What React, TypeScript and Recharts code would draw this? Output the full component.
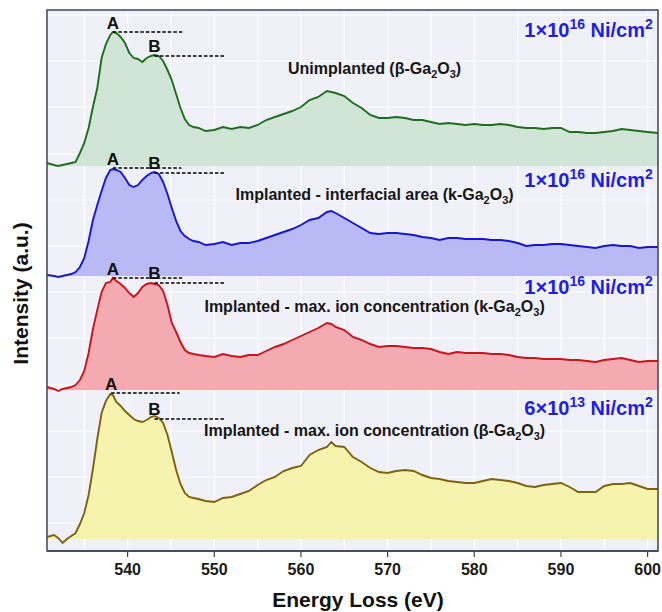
import React from 'react';
import {
  ComposedChart,
  Area,
  XAxis,
  YAxis,
  CartesianGrid,
  ReferenceLine,
  ReferenceDot,
  ReferenceArea,
} from 'recharts';

// Energy loss (eV)
const energy = [
  530.7, 531.5, 532, 532.5, 533, 533.5, 534, 534.5, 535, 535.5,
  536, 536.5, 537, 537.5, 538, 538.3, 538.7, 539.2, 539.7, 540.2,
  540.7, 541.2, 541.7, 542.2, 542.7, 543.1, 543.6, 544.1, 544.6, 545.1,
  545.6, 546.1, 546.6, 547.1, 547.6, 548.2,
  549, 550, 551, 552, 553, 554, 555, 556, 557, 558,
  559, 560, 561, 562, 563, 563.5,
  564, 565, 566, 567, 568, 569, 570, 571, 572, 573,
  574, 575, 576, 577, 578, 579, 580, 581, 582, 583,
  584, 585, 586, 587, 588, 589, 590, 591, 592, 593,
  594, 595, 596, 597, 598, 599, 600,
  601.2,
];

// Intensities (a.u.) above each spectrum's own baseline
const unimplanted = [
  3, 1, 0, 1, 2, 3, 4, 13, 23, 38,
  59, 78, 108, 122, 131, 134, 133, 129, 123, 113,
  108, 107, 104, 108, 110, 111, 110, 105, 96, 86,
  72, 58, 47, 41, 39, 38,
  35, 36, 39, 37, 39, 38, 41, 46, 49, 52,
  55, 59, 66, 69, 75, 74,
  73, 70, 63, 58, 51, 48, 48, 49, 48, 46,
  46, 44, 42, 43, 42, 41, 42, 41, 41, 42,
  41, 39, 38, 38, 37, 38, 38, 34, 34, 33,
  33, 34, 35, 37, 36, 35, 34,
  33,
];

const interfacial = [
  1, 0, -1, 0, 1, 2, 4, 9, 18, 35,
  56, 71, 85, 98, 106, 107, 106, 104, 98, 91,
  89, 91, 96, 100, 103, 104, 102, 94, 82, 68,
  55, 45, 40, 37, 35, 34,
  31, 32, 34, 31, 33, 33, 35, 38, 41, 44,
  47, 51, 56, 58, 64, 65,
  63, 58, 53, 48, 43, 42, 43, 43, 42, 41,
  39, 38, 36, 38, 38, 37, 37, 37, 36, 36,
  35, 33, 30, 31, 31, 32, 32, 31, 30, 29,
  28, 30, 31, 30, 30, 28, 29,
  29,
];

const maxIonKappa = [
  3, 1, -1, 1, 2, 3, 5, 10, 19, 37,
  61, 80, 98, 107, 108, 112, 109, 106, 102, 97,
  93, 97, 103, 106, 107, 106, 105, 99, 85, 67,
  58, 48, 40, 37, 36, 35,
  34, 33, 36, 34, 33, 35, 35, 39, 43, 46,
  50, 54, 58, 62, 67, 66,
  63, 60, 53, 50, 46, 43, 44, 44, 43, 42,
  42, 41, 38, 36, 38, 37, 37, 37, 36, 36,
  35, 33, 32, 32, 31, 31, 31, 30, 30, 29,
  28, 30, 31, 32, 30, 28, 29,
  29,
];

const maxIonBeta = [
  2, 4, 1, -4, 0, 3, 6, 15, 26, 44,
  70, 100, 126, 138, 145, 144, 137, 133, 128, 124,
  120, 118, 117, 119, 122, 123, 121, 116, 104, 87,
  69, 55, 46, 42, 41, 40,
  38, 37, 41, 42, 45, 48, 54, 59, 62, 68,
  71, 73, 84, 89, 92, 97,
  93, 92, 82, 77, 71, 67, 66, 68, 69, 68,
  64, 61, 60, 58, 57, 56, 56, 58, 60, 59,
  58, 56, 53, 52, 54, 55, 56, 52, 47, 47,
  47, 53, 55, 55, 56, 53, 50,
  50,
];

// vertical stacking offsets of each spectrum (a.u.)
const offsets = [385, 275, 161, 12];

// peak markers A and B
const peakAEnergy = [538.3, 538.3, 538.3, 538.1];
const peakAHeight = [134, 108, 112, 146];
const lineAEnd = [546.3, 546.2, 546.3, 546.0];
const peakBEnergy = [543.1, 543.1, 543.1, 543.1];
const peakBHeight = [110, 103, 107, 120];
const lineBEnd = [551.2, 551.3, 551.2, 551.3];

// spectrum names and doses
const nameEnergy = 568.5;
const nameHeight = [92, 76, 78, 103];
const namePrefix = [
  'Unimplanted (β-Ga',
  'Implanted - interfacial area (k-Ga',
  'Implanted - max. ion concentration (k-Ga',
  'Implanted - max. ion concentration (β-Ga',
];
const doseEnergy = 600.6;
const doseHeight = [129, 89, 96, 124];
const doseMantissa = ['1', '1', '1', '6'];
const doseExponent = ['16', '16', '16', '13'];

const xDomain = [530.7, 601.2];
const yDomain = [0, 541];
const xTicks = [540, 550, 560, 570, 580, 590, 600];
const gridX = [535, 540, 545, 550, 555, 560, 565, 570, 575, 580, 585, 590, 595, 600];
const gridY = [28, 74, 120, 166, 213, 259, 305, 351, 397, 444, 490, 536];

const seriesValues = [unimplanted, interfacial, maxIonKappa, maxIonBeta];
const seriesKeys = ['s0', 's1', 's2', 's3'];
const strokes = ['#1e6e1e', '#1515d2', '#c8141c', '#7d6210'];
const fills = ['#d1e5d6', '#b9b9f5', '#f4aab1', '#f6f3ae'];

const rows = energy.map((e, i) => {
  const r: Record<string, number> = { e };
  seriesKeys.forEach((k, s) => {
    r[k] = offsets[s] + seriesValues[s][i];
  });
  return r;
});

const FONT = "'Liberation Sans', Arial, Helvetica, sans-serif";

type Part = { t: string; s?: 'sub' | 'sup' };

function RichText(props: {
  x: number;
  y: number;
  parts: Part[];
  size: number;
  color: string;
  anchor: 'start' | 'middle' | 'end';
}) {
  const { x, y, parts, size, color, anchor } = props;
  const small = Math.round(size * 0.68);
  const shiftOf = (s?: string) => (s === 'sub' ? size * 0.28 : s === 'sup' ? -size * 0.42 : 0);
  let prev = 0;
  return (
    <text
      x={x}
      y={y}
      textAnchor={anchor}
      fontFamily={FONT}
      fontWeight="bold"
      fontSize={size}
      fill={color}
    >
      {parts.map((p, i) => {
        const sh = shiftOf(p.s);
        const dy = sh - prev;
        prev = sh;
        return (
          <tspan key={i} dy={dy} fontSize={p.s ? small : size}>
            {p.t}
          </tspan>
        );
      })}
    </text>
  );
}

const richLabel = (
  parts: Part[],
  size: number,
  color: string,
  anchor: 'start' | 'middle' | 'end',
  lift = 0
) =>
  (props: any) => {
    const vb = props && props.viewBox ? props.viewBox : props;
    const x = (vb.x || 0) + (vb.width || 0) / 2;
    const y = (vb.y || 0) + (vb.height || 0) / 2 - lift;
    return <RichText x={x} y={y} parts={parts} size={size} color={color} anchor={anchor} />;
  };

export default function App() {
  return (
    <div style={{ position: 'absolute', left: 0, top: 0, width: 662, height: 612, background: '#fff' }}>
      <ComposedChart
        width={662}
        height={612}
        data={rows}
        margin={{ top: 10, right: 4, bottom: 31, left: 47 }}
      >
        <CartesianGrid
          fill="#f0f0f8"
          fillOpacity={1}
          stroke="#ffffff"
          strokeWidth={1.2}
          verticalValues={gridX}
          horizontalValues={gridY}
        />
        <XAxis
          dataKey="e"
          type="number"
          domain={xDomain}
          ticks={xTicks}
          allowDataOverflow
          height={30}
          tickSize={6}
          tickMargin={7}
          stroke="#3f3f60"
          axisLine={{ stroke: '#3f3f60', strokeWidth: 1.5 }}
          tickLine={{ stroke: '#3f3f60', strokeWidth: 1.2 }}
          tick={{ fontSize: 16, fontWeight: 'bold', fill: '#1a1a1a', fontFamily: FONT }}
        />
        <YAxis type="number" domain={yDomain} allowDataOverflow hide />
        {seriesKeys.map((k, s) => (
          <Area
            key={k}
            dataKey={k}
            type="linear"
            baseValue={offsets[s]}
            stroke={strokes[s]}
            strokeWidth={1.9}
            fill={fills[s]}
            fillOpacity={1}
            dot={false}
            activeDot={false}
            isAnimationActive={false}
          />
        ))}
        {seriesKeys.map((k, s) => (
          <ReferenceLine
            key={'la' + k}
            segment={[
              { x: peakAEnergy[s], y: offsets[s] + peakAHeight[s] },
              { x: lineAEnd[s], y: offsets[s] + peakAHeight[s] },
            ]}
            stroke="#000"
            strokeWidth={1.5}
            strokeDasharray="3.5 2"
            ifOverflow="visible"
          />
        ))}
        {seriesKeys.map((k, s) => (
          <ReferenceLine
            key={'lb' + k}
            segment={[
              { x: peakBEnergy[s], y: offsets[s] + peakBHeight[s] },
              { x: lineBEnd[s], y: offsets[s] + peakBHeight[s] },
            ]}
            stroke="#000"
            strokeWidth={1.5}
            strokeDasharray="3.5 2"
            ifOverflow="visible"
          />
        ))}
        {seriesKeys.map((k, s) => (
          <ReferenceDot
            key={'da' + k}
            x={peakAEnergy[s]}
            y={offsets[s] + peakAHeight[s]}
            r={0}
            fill="none"
            stroke="none"
            ifOverflow="visible"
            label={richLabel([{ t: 'A' }], 17, '#111', 'middle', 3)}
          />
        ))}
        {seriesKeys.map((k, s) => (
          <ReferenceDot
            key={'db' + k}
            x={peakBEnergy[s]}
            y={offsets[s] + peakBHeight[s]}
            r={0}
            fill="none"
            stroke="none"
            ifOverflow="visible"
            label={richLabel([{ t: 'B' }], 17, '#111', 'middle', 4)}
          />
        ))}
        {seriesKeys.map((k, s) => (
          <ReferenceDot
            key={'n' + k}
            x={nameEnergy}
            y={offsets[s] + nameHeight[s]}
            r={0}
            fill="none"
            stroke="none"
            ifOverflow="visible"
            label={richLabel(
              [
                { t: namePrefix[s] },
                { t: '2', s: 'sub' },
                { t: 'O' },
                { t: '3', s: 'sub' },
                { t: ')' },
              ],
              16,
              '#161616',
              'middle'
            )}
          />
        ))}
        {seriesKeys.map((k, s) => (
          <ReferenceDot
            key={'d' + k}
            x={doseEnergy}
            y={offsets[s] + doseHeight[s]}
            r={0}
            fill="none"
            stroke="none"
            ifOverflow="visible"
            label={richLabel(
              [
                { t: doseMantissa[s] + '×10' },
                { t: doseExponent[s], s: 'sup' },
                { t: ' Ni/cm' },
                { t: '2', s: 'sup' },
              ],
              20,
              '#1e1ee6',
              'end'
            )}
          />
        ))}
        <ReferenceArea
          x1={xDomain[0]}
          x2={xDomain[1]}
          y1={yDomain[0]}
          y2={yDomain[1]}
          fill="none"
          fillOpacity={0}
          stroke="#3f3f60"
          strokeWidth={1.5}
          ifOverflow="visible"
        />
        <text
          x={358}
          y={607}
          textAnchor="middle"
          fontFamily={FONT}
          fontWeight="bold"
          fontSize={21}
          fill="#111"
        >
          Energy Loss (eV)
        </text>
        <text
          x={28}
          y={293.5}
          transform="rotate(-90, 28, 293.5)"
          textAnchor="middle"
          fontFamily={FONT}
          fontWeight="bold"
          fontSize={21}
          fill="#111"
        >
          Intensity (a.u.)
        </text>
      </ComposedChart>
    </div>
  );
}
